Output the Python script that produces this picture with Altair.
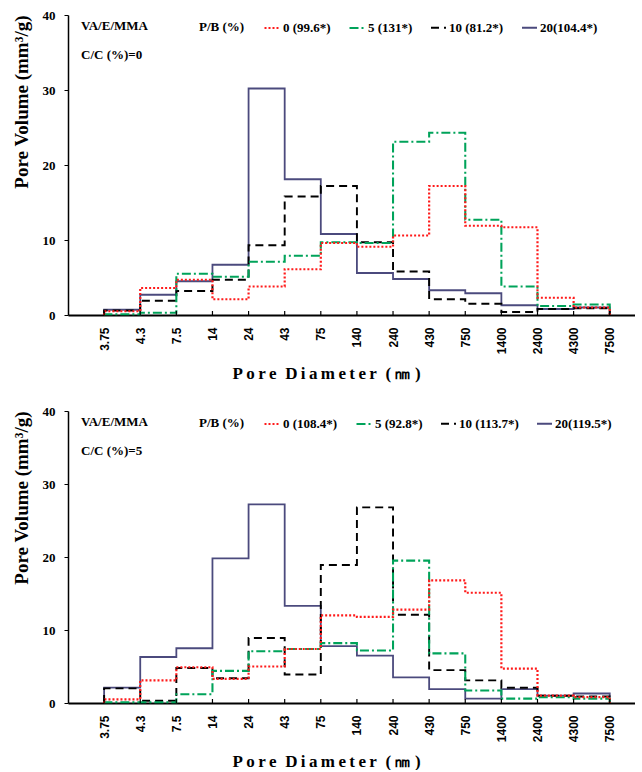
import json
import altair as alt
import pandas as pd

# Pore diameter class boundaries (nm), shown as category ticks
LABELS = ["3.75", "4.3", "7.5", "14", "24", "43", "75", "140", "240",
          "430", "750", "1400", "2400", "4300", "7500"]

# Legend entries: P/B (%) with value in brackets
TOP_NAMES = ["0 (99.6*)", "5 (131*)", "10 (81.2*)", "20(104.4*)"]
BOT_NAMES = ["0 (108.4*)", "5 (92.8*)", "10 (113.7*)", "20(119.5*)"]

# Pore volume (mm3/g) per diameter class, C/C (%) = 0
TOP_PB0 = [0.5, 3.6, 4.7, 2.1, 3.8, 6.1, 9.6, 9.1, 10.6, 17.2, 11.9, 11.7, 2.3, 1.0]
TOP_PB5 = [0.1, 0.3, 5.5, 5.1, 7.1, 7.9, 9.7, 9.6, 23.1, 24.3, 12.7, 3.8, 1.2, 1.4]
TOP_PB10 = [0.6, 1.9, 3.2, 4.7, 9.3, 15.8, 17.2, 9.7, 5.8, 2.1, 1.5, 0.4, 0.8, 0.9]
TOP_PB20 = [0.7, 2.7, 4.5, 6.7, 30.2, 18.1, 10.8, 5.6, 4.8, 3.3, 2.9, 1.3, 0.8, 1.0]

# Pore volume (mm3/g) per diameter class, C/C (%) = 5
BOT_PB0 = [0.5, 3.1, 4.9, 3.3, 5.0, 7.4, 12.0, 11.8, 12.8, 16.8, 15.1, 4.7, 1.0, 0.8]
BOT_PB5 = [0.1, 0.1, 1.2, 4.4, 7.1, 7.4, 8.2, 7.2, 19.5, 6.8, 1.7, 0.6, 0.8, 0.6]
BOT_PB10 = [2.0, 0.3, 4.8, 3.4, 8.9, 3.9, 18.9, 26.8, 12.1, 4.5, 3.1, 2.1, 1.0, 0.9]
BOT_PB20 = [2.1, 6.3, 7.5, 19.8, 27.2, 13.3, 7.8, 6.5, 3.5, 1.9, 0.6, 1.9, 1.0, 1.3]

COLORS = ["#ff1a1a", "#00a35a", "#000000", "#4b4a7d"]
DASHES = [[2, 2], [9, 3, 2, 3], [8, 5], [1, 0]]
WIDTHS = [2.2, 1.8, 2.6, 2.0]

SERIF = "Times New Roman, Liberation Serif, serif"
SANS = "Liberation Sans, Arial, sans-serif"
PLOT_W = 567

THIN = "\u2009"
GAP = "\u00a0\u00a0"
X_TITLE = THIN.join("Pore") + GAP + THIN.join("Diameter") + GAP + THIN.join("(\u339a)")


def step_rows(names, series):
    """Closed step outline: rise at the first boundary, fall at the last."""
    rows = []
    # the solid series goes first so the broken lines sit on top of it
    for k in [3, 2, 1, 0]:
        name, vals = names[k], series[k]
        n = len(vals)
        pts = [(0, 0.0)] + list(enumerate(vals)) + [(n, vals[-1]), (n, 0.0)]
        for o, (xv, yv) in enumerate(pts):
            rows.append({"series": name, "idx": xv, "vol": yv, "ord": o})
    return pd.DataFrame(rows)


def panel(names, series, cc, height):
    df = step_rows(names, series)
    legend = alt.Legend(
        title="P/B (%)", orient="none", legendX=131, legendY=4,
        direction="horizontal", symbolType="stroke", symbolSize=225,
        symbolStrokeWidth=2, labelFont=SERIF, labelFontWeight="bold",
        labelFontSize=13, labelColor="black", labelOffset=2,
        titleOrient="left", titleFont=SERIF, titleFontWeight="bold",
        titleFontSize=13, titleColor="black", titlePadding=18,
        titleBaseline="middle", columnPadding=14, padding=0,
    )
    x = alt.X(
        "idx:Q",
        scale=alt.Scale(domain=[-1, 14.7], nice=False, zero=False),
        axis=alt.Axis(
            values=list(range(len(LABELS))),
            labelExpr=json.dumps(LABELS) + "[datum.value]",
            labelAngle=-90, labelFont=SANS, labelFontWeight="bold",
            labelFontSize=12, labelColor="black", labelPadding=12,
            tickSize=0, domainColor="black", domainWidth=2, grid=False,
            title=X_TITLE,
            titleFont=SERIF, titleFontWeight="bold", titleFontSize=17,
            titleColor="black", titlePadding=12, titleX=258,
        ),
    )
    y = alt.Y(
        "vol:Q",
        scale=alt.Scale(domain=[0, 40], nice=False),
        axis=alt.Axis(
            values=[0, 10, 20, 30, 40], labelFont=SERIF,
            labelFontWeight="bold", labelFontSize=13, labelColor="black",
            labelPadding=9, tickSize=4, tickColor="black",
            domainColor="black", domainWidth=1.5, grid=False,
            title="Pore Volume (mm\u00b3/g)", titleFont=SERIF,
            titleFontWeight="bold", titleFontSize=19, titleColor="black",
            titleAnchor="end", titlePadding=11,
        ),
    )
    lines = alt.Chart(df).mark_line(interpolate="step-after").encode(
        x=x, y=y,
        color=alt.Color("series:N", scale=alt.Scale(domain=names, range=COLORS), legend=legend),
        strokeDash=alt.StrokeDash("series:N", scale=alt.Scale(domain=names, range=DASHES), legend=legend),
        strokeWidth=alt.StrokeWidth("series:N", scale=alt.Scale(domain=names, range=WIDTHS), legend=None),
        order=alt.Order("ord:Q"),
    )
    ticks = alt.Chart(pd.DataFrame({"idx": list(range(len(LABELS)))})).mark_rule(
        color="black", strokeWidth=1.2
    ).encode(x="idx:Q", y=alt.value(height), y2=alt.value(height - 4))
    note1 = alt.Chart(pd.DataFrame({"t": ["VA/E/MMA"]})).mark_text(
        font=SERIF, fontWeight="bold", fontSize=13, align="left", baseline="middle", color="black"
    ).encode(text="t:N", x=alt.value(13), y=alt.value(11))
    note2 = alt.Chart(pd.DataFrame({"t": [f"C/C (%)={cc}"]})).mark_text(
        font=SERIF, fontWeight="bold", fontSize=13, align="left", baseline="middle", color="black"
    ).encode(text="t:N", x=alt.value(13), y=alt.value(40))
    return alt.layer(lines, ticks, note1, note2).properties(width=PLOT_W, height=height)


top = panel(TOP_NAMES, [TOP_PB0, TOP_PB5, TOP_PB10, TOP_PB20], 0, 300)
bottom = panel(BOT_NAMES, [BOT_PB0, BOT_PB5, BOT_PB10, BOT_PB20], 5, 292)

chart = (
    alt.vconcat(top, bottom, spacing=23)
    .resolve_scale(color="independent", strokeDash="independent", strokeWidth="independent")
    .properties(padding={"left": 11, "top": 9, "right": 0, "bottom": 0}, background="white")
    .configure_view(stroke=None)
)

chart.save("out.html", embed_options={"renderer": "svg", "actions": False})
